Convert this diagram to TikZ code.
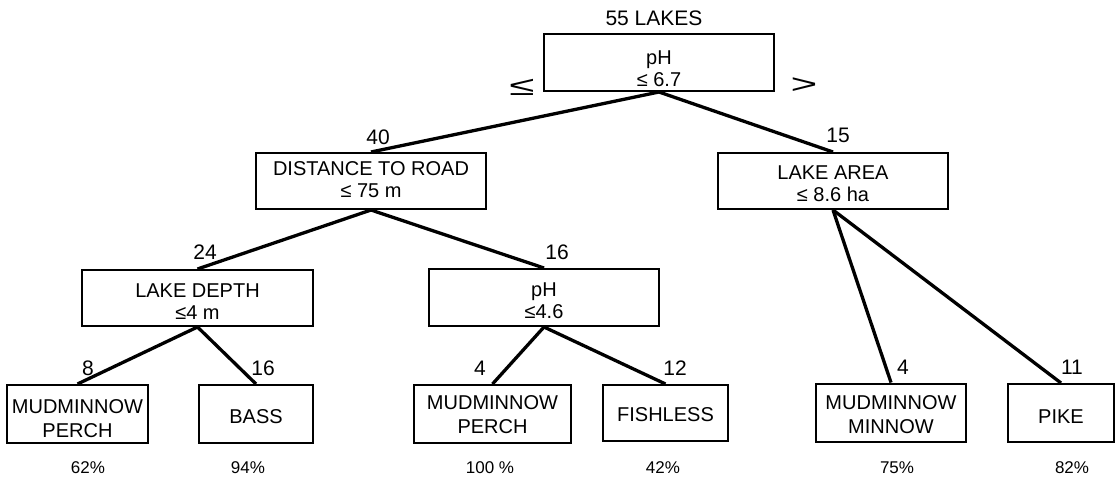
\documentclass[tikz,border=0pt]{standalone}
\usepackage{fontspec}
\setmainfont{Liberation Sans}
\begin{document}
\begin{tikzpicture}[x=1pt,y=-1pt,
  box/.style={draw, line width=2pt, minimum height=57pt, inner sep=0pt},
  btext/.style={align=center, inner sep=0pt, font=\fontsize{20}{22}\selectfont},
  ltext/.style={align=center, inner sep=0pt, font=\fontsize{20}{24}\selectfont},
  conn/.style={line width=3.3pt},
  count/.style={font=\fontsize{21}{22}\selectfont, inner sep=0pt},
  pct/.style={font=\fontsize{17}{18}\selectfont, inner sep=0pt},
  sign/.style={font=\fontsize{27}{30}\selectfont, inner sep=0pt}]
\useasboundingbox (0,0) rectangle (1115,479);
% decision nodes
\node[box, minimum width=230pt, label={[btext, yshift=-6.5pt]center:{pH\\≤ 6.7}}] (root) at (659,62.5) {};
\node[box, minimum width=230pt, minimum height=56pt, label={[btext, yshift=1.5pt]center:{DISTANCE TO ROAD\\≤ 75 m}}] (dist) at (371,181) {};
\node[box, minimum width=230pt, minimum height=56pt, label={[btext, yshift=-2.5pt]center:{LAKE AREA\\≤ 8.6 ha}}] (area) at (833,181) {};
\node[box, minimum width=231pt, minimum height=56pt, label={[btext, yshift=-3.5pt]center:{LAKE DEPTH\\≤4 m}}] (depth) at (197.5,298) {};
\node[box, minimum width=230pt, minimum height=57pt, label={[btext, yshift=-3.5pt]center:{pH\\≤4.6}}] (ph2) at (544,297.5) {};
% leaves
\node[box, minimum width=141pt, minimum height=58pt, label={[ltext, yshift=-4.5pt]center:{MUDMINNOW\\PERCH}}] (mud1) at (77.5,414) {};
\node[box, minimum width=114pt, minimum height=58pt, label={[ltext, yshift=-2.5pt]center:{BASS}}] (bass) at (256,414) {};
\node[box, minimum width=157pt, minimum height=58pt, label={[ltext, yshift=-0.5pt]center:{MUDMINNOW\\PERCH}}] (mud2) at (492.5,414) {};
\node[box, minimum width=125pt, minimum height=56pt, label={[ltext, yshift=-1.5pt]center:{FISHLESS}}] (fish) at (665.5,413) {};
\node[box, minimum width=150pt, minimum height=58pt, label={[ltext, yshift=-2pt]center:{MUDMINNOW\\MINNOW}}] (mud3) at (891,412.5) {};
\node[box, minimum width=106pt, minimum height=58pt, label={[ltext, yshift=-3.5pt]center:{PIKE}}] (pike) at (1061,413) {};
% connectors
\draw[conn] (root.south) -- (dist.north);
\draw[conn] (root.south) -- (area.north);
\draw[conn] (dist.south) -- (depth.north);
\draw[conn] (dist.south) -- (ph2.north);
\draw[conn] (depth.south) -- (mud1.north);
\draw[conn] (depth.south) -- (bass.north);
\draw[conn] (ph2.south) -- (mud2.north);
\draw[conn] (ph2.south) -- (fish.north);
\draw[conn] (area.south) -- (mud3.north);
\draw[conn] (area.south) -- (pike.north);
% counts
\node[count] (n55) at (654,18) {55 LAKES};
\node[count] (n40) at (378,137) {40};
\node[count] (n15) at (838,135) {15};
\node[count] (n24) at (205,252) {24};
\node[count] (n16a) at (557,252) {16};
\node[count] (n8) at (88,368) {8};
\node[count] (n16b) at (263,368) {16};
\node[count] (n4a) at (480,368) {4};
\node[count] (n12) at (675,368) {12};
\node[count] (n4b) at (903,367) {4};
\node[count] (n11) at (1072,367) {11};
% split signs
\node[sign] (le) at (522,87) {\scalebox{1.7}[1]{≤}};
\node[sign] (gt) at (804,86) {\scalebox{1.7}[1]{>}};
% percentages
\node[pct] (p1) at (88,468) {62\%};
\node[pct] (p2) at (248,468) {94\%};
\node[pct] (p3) at (490,468) {100 \%};
\node[pct] (p4) at (663,468) {42\%};
\node[pct] (p5) at (897,468) {75\%};
\node[pct] (p6) at (1072,468) {82\%};
\end{tikzpicture}
\end{document}
